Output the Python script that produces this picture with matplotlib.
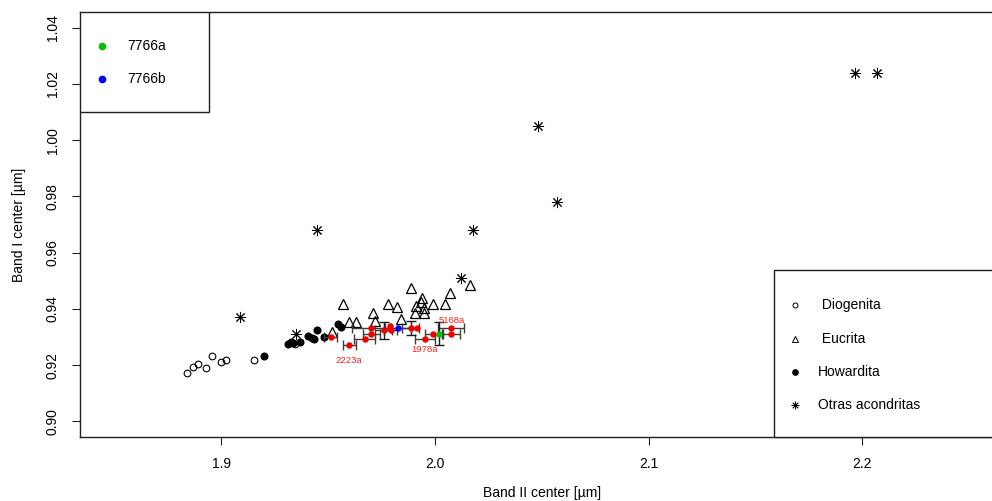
import numpy as np
import matplotlib
matplotlib.use("Agg")
import matplotlib.pyplot as plt
from matplotlib.patches import Rectangle

plt.rcParams['font.family'] = ['Liberation Sans', 'DejaVu Sans']

# ---- data: band centres (µm) ----
diog_x = [1.8840, 1.8870, 1.8891, 1.8928, 1.8959, 1.8999, 1.9022, 1.9153, 1.9346]
diog_y = [0.9171, 0.9193, 0.9203, 0.9191, 0.9232, 0.9211, 0.9219, 0.9219, 0.9274]

euc_x = [1.9571, 1.9519, 1.9597, 1.9633, 1.9711, 1.9722, 1.9781, 1.9823, 1.9890, 1.9841,
         1.9942, 1.9934, 1.9913, 1.9906, 1.9949, 1.9949, 1.9992, 2.0046, 2.0072, 2.0163]
euc_y = [0.9416, 0.9317, 0.9353, 0.9353, 0.9386, 0.9356, 0.9416, 0.9406, 0.9475, 0.9365,
         0.9440, 0.9424, 0.9410, 0.9386, 0.9386, 0.9404, 0.9416, 0.9416, 0.9457, 0.9483]

how_x = [1.9201, 1.9315, 1.9326, 1.9338, 1.9370, 1.9408, 1.9427, 1.9436, 1.9450, 1.9482,
         1.9549, 1.9560]
how_y = [0.9232, 0.9274, 0.9282, 0.9280, 0.9283, 0.9303, 0.9297, 0.9291, 0.9323, 0.9300,
         0.9345, 0.9337]

otras_x = [1.9089, 1.9349, 1.9449, 2.0121, 2.0180, 2.0481, 2.0573, 2.1965, 2.2067]
otras_y = [0.9371, 0.9312, 0.9682, 0.9511, 0.9680, 1.0049, 0.9779, 1.0239, 1.0239]

# measured samples with uncertainties
samp_x = [1.9513, 1.9599, 1.9672, 1.9703, 1.9703, 1.9761, 1.9792, 1.9794, 1.9887, 1.9917,
          1.9953, 1.9992, 2.0077, 2.0077]
samp_y = [0.9301, 0.9270, 0.9291, 0.9333, 0.9312, 0.9324, 0.9339, 0.9324, 0.9333, 0.9333,
          0.9291, 0.9312, 0.9333, 0.9312]
samp_xerr = [0.0030, 0.0031, 0.0048, 0.0090, 0.0040, 0.0040, 0.0, 0.0030, 0.0040, 0.0,
             0.0048, 0.0040, 0.0060, 0.0040]
samp_yerr = [0.0, 0.0, 0.0, 0.0, 0.0, 0.0030, 0.0, 0.0, 0.0025, 0.0,
             0.0, 0.0, 0.0, 0.0]
samp_names = {"2223a": 1, "1978a": 10, "5168a": 12}

s7766a_x, s7766a_y, s7766a_xerr, s7766a_yerr = [2.0020], [0.9312], [0.0], [0.0040]
s7766b_x, s7766b_y, s7766b_xerr, s7766b_yerr = [1.9828], [0.9333], [0.0060], [0.0]

class_labels = [" Diogenita", " Eucrita", "Howardita", "Otras acondritas"]
sample_labels = ["7766a", "7766b"]

x_ticks = [1.9, 2.0, 2.1, 2.2]
y_ticks = [0.90, 0.92, 0.94, 0.96, 0.98, 1.00, 1.02, 1.04]

# ---- figure ----
W, H = 992, 501
fig = plt.figure(figsize=(W / 100, H / 100), dpi=100)
AX_L, AX_R, AX_T, AX_B = 80, 1003.5, 12, 437
ax = fig.add_axes([AX_L / W, (H - AX_B) / H, (AX_R - AX_L) / W, (AX_B - AX_T) / H])
ax.set_xlim(1.834, 2.266)
ax.set_ylim(0.8944, 1.0456)

asterisk = (8, 2, 0)
ax.plot(diog_x, diog_y, 'o', ms=4.8, mfc='none', mec='black', mew=0.8, ls='none')
ax.plot(euc_x, euc_y, '^', ms=7, mfc='none', mec='black', mew=0.9, ls='none')
ax.plot(how_x, how_y, 'o', ms=4.8, mfc='black', mec='black', ls='none')
ax.plot(otras_x, otras_y, marker=asterisk, ms=8, mec='black', mew=0.7, ls='none')


def draw_errors(x, y, xerr, yerr):
    x, y = np.asarray(x), np.asarray(y)
    xerr, yerr = np.asarray(xerr), np.asarray(yerr)
    hx = xerr > 0
    if hx.any():
        ax.errorbar(x[hx], y[hx], xerr=xerr[hx], fmt='none', ecolor='#3c3c3c',
                    elinewidth=1, capsize=3.5, capthick=1, zorder=3)
    vy = yerr > 0
    if vy.any():
        ax.errorbar(x[vy], y[vy], yerr=yerr[vy], fmt='none', ecolor='#1a1a1a',
                    elinewidth=1, capsize=3.5, capthick=1, zorder=3)


draw_errors(samp_x, samp_y, samp_xerr, samp_yerr)
draw_errors(s7766a_x, s7766a_y, s7766a_xerr, s7766a_yerr)
draw_errors(s7766b_x, s7766b_y, s7766b_xerr, s7766b_yerr)

ax.plot(samp_x, samp_y, 'o', ms=3.6, color='#ee0000', ls='none', zorder=4)
ax.plot(s7766a_x, s7766a_y, 'o', ms=3.6, color='#00c000', ls='none', zorder=4)
ax.plot(s7766b_x, s7766b_y, 'o', ms=3.6, color='#0000ff', ls='none', zorder=4)

name_offsets = {"2223a": (0, -11), "1978a": (0, -7.5), "5168a": (0, 5)}
for name, i in samp_names.items():
    ax.annotate(name, (samp_x[i], samp_y[i]), xytext=name_offsets[name],
                textcoords='offset points', ha='center', va='center',
                fontsize=6.8, color='#ff2020', zorder=6)

# ---- axes styling ----
for sp in ax.spines.values():
    sp.set_linewidth(1)
    sp.set_color('#202020')
ax.set_xticks(x_ticks)
ax.set_xticklabels([f"{v:.1f}" for v in x_ticks])
ax.set_yticks(y_ticks)
ax.set_yticklabels([f"{v:.2f}" for v in y_ticks], rotation=90, va='center')
ax.tick_params(direction='out', length=5.5, width=0.8, labelsize=10, color='#202020')
ax.tick_params(axis='x', pad=9)
ax.tick_params(axis='y', pad=9)
ax.set_xlabel("Band II center [µm]", fontsize=10, labelpad=11)
ax.set_ylabel("Band I center [µm]", fontsize=10, labelpad=14)


def af(px, py):
    return ((px - AX_L) / (AX_R - AX_L), (AX_B - py) / (AX_B - AX_T))


# ---- legend: samples (top left) ----
x0, y1 = af(AX_L, AX_T)
x1, y0 = af(209, 112)
ax.add_patch(Rectangle((x0, y0), x1 - x0, y1 - y0, transform=ax.transAxes,
                       facecolor='white', edgecolor='#202020', lw=1, zorder=7))
for lab, col, py in zip(sample_labels, ['#00c000', '#0000ff'], [46, 79]):
    mx, my = af(102, py)
    ax.plot([mx], [my], 'o', ms=4.5, color=col, transform=ax.transAxes,
            clip_on=False, zorder=8)
    tx, ty = af(127, py)
    ax.text(tx, ty, lab, transform=ax.transAxes, fontsize=10, va='center',
            ha='left', zorder=8)

# ---- legend: classes (bottom right) ----
x0, y1 = af(774, 270)
ax.add_patch(Rectangle((x0, 0), 1.0 - x0, y1, transform=ax.transAxes,
                       facecolor='white', edgecolor='#202020', lw=1, zorder=7,
                       clip_on=False))
styles = [dict(marker='o', ms=3.6, mfc='none', mec='black', mew=0.7),
          dict(marker='^', ms=4.8, mfc='none', mec='black', mew=0.7),
          dict(marker='o', ms=3.8, mfc='black', mec='black'),
          dict(marker=asterisk, ms=5.5, mec='black', mew=0.6)]
for lab, st, py in zip(class_labels, styles, [305, 339, 372, 405]):
    mx, my = af(795, py)
    ax.plot([mx], [my], ls='none', transform=ax.transAxes, clip_on=False,
            zorder=8, **st)
    tx, ty = af(818, py)
    ax.text(tx, ty, lab, transform=ax.transAxes, fontsize=10, va='center',
            ha='left', zorder=8)

fig.savefig("out.png", dpi=100)
